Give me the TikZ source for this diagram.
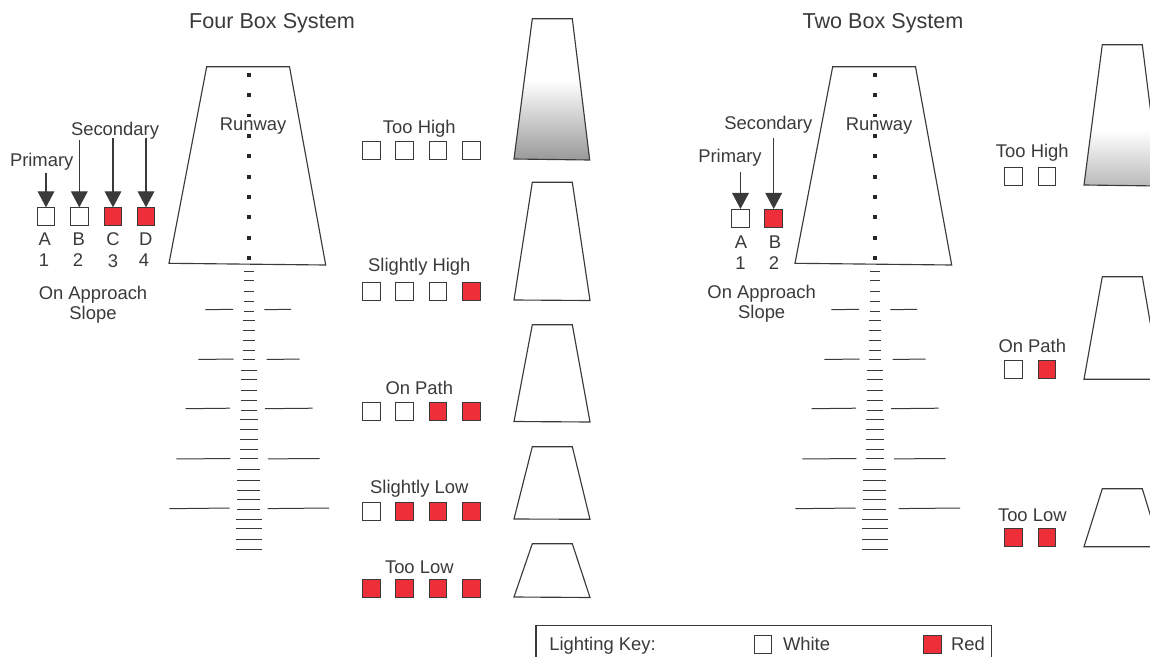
\documentclass[tikz,border=0pt]{standalone}
\usepackage{fontspec}
\setmainfont{Liberation Sans}
\usetikzlibrary{arrows.meta}
\definecolor{ink}{HTML}{3A3A3A}
\definecolor{lampred}{HTML}{EE2E38}
\tikzset{
  txt/.style={inner sep=0pt,outer sep=0pt,anchor=base,text=ink,font=\fontsize{13.8}{16}\selectfont},
  txtl/.style={txt,anchor=base west},
  ttl/.style={txt,font=\fontsize{16.2}{19}\selectfont},
  lamp/.style={draw=ink,line width=0.85pt,minimum size=13.2pt,inner sep=0pt,outer sep=0.4pt},
  lampW/.style={lamp,fill=white},
  lampR/.style={lamp,fill=lampred},
  trap/.style={draw=ink,line width=0.85pt,line join=miter},
  tick/.style={draw=ink,line width=0.75pt},
  arr/.style={draw=ink,fill=ink,line width=0.85pt,-{Triangle[length=12pt,width=12.5pt]}},
  dot/.style={fill=black!85,inner sep=0pt,minimum size=2.7pt,outer sep=0pt},
}
\newcommand{\ladder}[2]{%
  \begin{scope}[xshift=#1*0.75pt]
    \foreach \yy in {271,280.3,291,301,311}{\draw[tick] (244.3,\yy) -- (253.7,\yy);}
    \foreach \yy in {320.3,330.7,340,350.7,359.7}{\draw[tick] (242.7,\yy) -- (255,\yy);}
    \foreach \yy in {370,379.3,390,400,410}{\draw[tick] (240.7,\yy) -- (257,\yy);}
    \foreach \yy in {419.3,429.7,439,449.7,458.7}{\draw[tick] (239.7,\yy) -- (258.3,\yy);}
    \foreach \yy in {469.3,480,490,499.7,509.3}{\draw[tick] (237.3,\yy) -- (260.3,\yy);}
    \foreach \yy in {519.3,528.7,539.3,549.3}{\draw[tick] (236,\yy) -- (262,\yy);}
    \draw[tick] (205.3,309.7) -- (233,309.3);
    \draw[tick] (264.3,309.7) -- (291,309.3);
    \draw[tick] (198.3,359.5) -- (233.7,359);
    \draw[tick] (266.7,359.5) -- (299.7,359);
    \draw[tick] (185.7,408.7) -- (230,408.2);
    \draw[tick] (265,408.7) -- (312.7,408.2);
    \draw[tick] (176.3,458.9) -- (230.3,458.6);
    \draw[tick] (268,458.9) -- (319.7,458.5);
    \draw[tick] (169.3,508.7) -- (229.7,508);
    \draw[tick] (#2,508.6) -- (329+#2-267.7,508);
    \foreach \yy in {74.7,95,115.3,135.7,156,176.7,196.7,217,237.7,258}{\node[dot] at (249,\yy) {};}
    \draw[trap] (206.7,66.7) -- (289.5,66.7) -- (325.7,265) -- (169,263.3) -- cycle;
  \end{scope}
}
\begin{document}
\begin{tikzpicture}[x=0.75pt,y=-0.75pt]
\useasboundingbox (0,0) rectangle (1150,657);
\fill[white] (0,0) rectangle (1150,657);
\clip (0,0) rectangle (1150,657);

% titles
\node[ttl] (t1) at (272,28) {Four Box System};
\node[ttl] (t2) at (883,28) {Two Box System};

% runway and approach ladder
\ladder{0}{267.7}
\ladder{626}{272.7}

% four box: legend
\node[txt] (prim1) at (41.7,166) {Primary};
\node[txt] (sec1) at (115,135) {Secondary};
\node[txt] (rw1) at (253,130.5) {Runway};
\node[lampW] (a1) at (46,216.7) {};
\node[lampW] (b1) at (79.3,216.7) {};
\node[lampR] (c1) at (113,216.7) {};
\node[lampR] (d1) at (146,216.7) {};
\coordinate (sa1) at (46,172.7);
\coordinate (sb1) at (79.3,140);
\coordinate (sc1) at (113,138);
\coordinate (sd1) at (146,137.7);
\draw[arr] (sa1) -- (sa1 |- a1.north);
\draw[arr] (sb1) -- (sb1 |- b1.north);
\draw[arr] (sc1) -- (sc1 |- c1.north);
\draw[arr] (sd1) -- (sd1 |- d1.north);
\node[txt] (la1) at (44.7,245.5) {A};
\node[txt] (lb1) at (78.7,245.5) {B};
\node[txt] (lc1) at (113,245.5) {C};
\node[txt] (ld1) at (145.7,245.5) {D};
\node[txt] (n1) at (44,266.5) {1};
\node[txt] (n2) at (78,266.5) {2};
\node[txt] (n3) at (113,267) {3};
\node[txt] (n4) at (144,266.5) {4};
\node[txt] (oa1) at (93,299) {On Approach};
\node[txt] (sl1) at (93,319) {Slope};

% four box: rows
\node[txt] (th) at (419.3,133.5) {Too High};
\foreach \n/\x/\s in {1/371.3/lampW,2/404.7/lampW,3/438/lampW,4/471.3/lampW}{\node[\s] (th\n) at (\x,150.7) {};}
\node[txt] (sh) at (419.3,271.5) {Slightly High};
\foreach \n/\x/\s in {1/371.3/lampW,2/404.7/lampW,3/438/lampW,4/471.3/lampR}{\node[\s] (sh\n) at (\x,291.3) {};}
\node[txt] (op) at (419.3,394.5) {On Path};
\foreach \n/\x/\s in {1/371.3/lampW,2/404.7/lampW,3/438/lampR,4/471.3/lampR}{\node[\s] (op\n) at (\x,411.7) {};}
\node[txt] (sl) at (419.3,493.5) {Slightly Low};
\foreach \n/\x/\s in {1/371.3/lampW,2/404.7/lampR,3/438/lampR,4/471.3/lampR}{\node[\s] (sl\n) at (\x,511.7) {};}
\node[txt] (tl) at (419.3,573.5) {Too Low};
\foreach \n/\x/\s in {1/371.3/lampR,2/404.7/lampR,3/438/lampR,4/471.3/lampR}{\node[\s] (tl\n) at (\x,588.7) {};}

% four box: views
\begin{scope}
  \clip (532.3,18.7) -- (572.3,18.7) -- (589.7,160) -- (514,159) -- cycle;
  \shade[top color=white,bottom color=black!40] (500,80) rectangle (600,160);
\end{scope}
\draw[trap] (532.3,18.7) -- (572.3,18.7) -- (589.7,160) -- (514,159) -- cycle;
\draw[trap] (532.3,182.3) -- (572.3,182.3) -- (590,300.5) -- (514,300) -- cycle;
\draw[trap] (532.3,324.7) -- (572.3,324.7) -- (590,422) -- (514,421.5) -- cycle;
\draw[trap] (532.3,446.7) -- (572.3,446.7) -- (590,519.3) -- (514,519) -- cycle;
\draw[trap] (532.3,543.7) -- (572.3,543.7) -- (590,597.5) -- (514,597) -- cycle;

% two box: legend
\node[txt] (prim2) at (730,162.7) {Primary};
\node[txt] (sec2) at (768.3,129) {Secondary};
\node[txt] (rw2) at (879,130.5) {Runway};
\node[lampW] (a2) at (740.5,218.3) {};
\node[lampR] (b2) at (773.7,218.3) {};
\coordinate (sa2) at (740.5,172.3);
\coordinate (sb2) at (773.7,138);
\draw[arr] (sa2) -- (sa2 |- a2.north);
\draw[arr] (sb2) -- (sb2 |- b2.north);
\node[txt] (la2) at (741,248) {A};
\node[txt] (lb2) at (775,248) {B};
\node[txt] (m1) at (740.5,269) {1};
\node[txt] (m2) at (774,269) {2};
\node[txt] (oa2) at (761.7,298) {On Approach};
\node[txt] (sl2) at (761.7,318) {Slope};

% two box: rows
\node[txt] (th2) at (1032.3,157.5) {Too High};
\node[lampW] (tha) at (1013.7,176.7) {};
\node[lampW] (thb) at (1047,176.7) {};
\node[txt] (op2) at (1032.3,352.5) {On Path};
\node[lampW] (opa) at (1013.7,369.7) {};
\node[lampR] (opb) at (1047,369.7) {};
\node[txt] (tl2) at (1032.3,521.5) {Too Low};
\node[lampR] (tla) at (1013.7,537.7) {};
\node[lampR] (tlb) at (1047,537.7) {};

% two box: views
\begin{scope}
  \clip (1102.3,44.7) -- (1142.3,44.7) -- (1160,186) -- (1084,185) -- cycle;
  \shade[top color=white,bottom color=black!27] (1080,130) rectangle (1170,186);
\end{scope}
\draw[trap] (1102.3,44.7) -- (1142.3,44.7) -- (1160,186) -- (1084,185) -- cycle;
\draw[trap] (1102.3,276.7) -- (1142.3,276.7) -- (1160,379.3) -- (1084,379.3) -- cycle;
\draw[trap] (1102.3,488.7) -- (1142.3,488.7) -- (1160,546.7) -- (1084,546.7) -- cycle;

% key
\draw[draw=ink,line width=0.85pt] (536,670) -- (536,625.7) -- (991.7,625.7) -- (991.7,670);
\node[txtl] (key) at (549.3,650.5) {Lighting Key:};
\node[lampW] (kw) at (763,644.5) {};
\node[txtl] (kwt) at (783,650.5) {White};
\node[lampR] (kr) at (932.7,644.5) {};
\node[txtl] (krt) at (951,650.5) {Red};
\end{tikzpicture}
\end{document}
